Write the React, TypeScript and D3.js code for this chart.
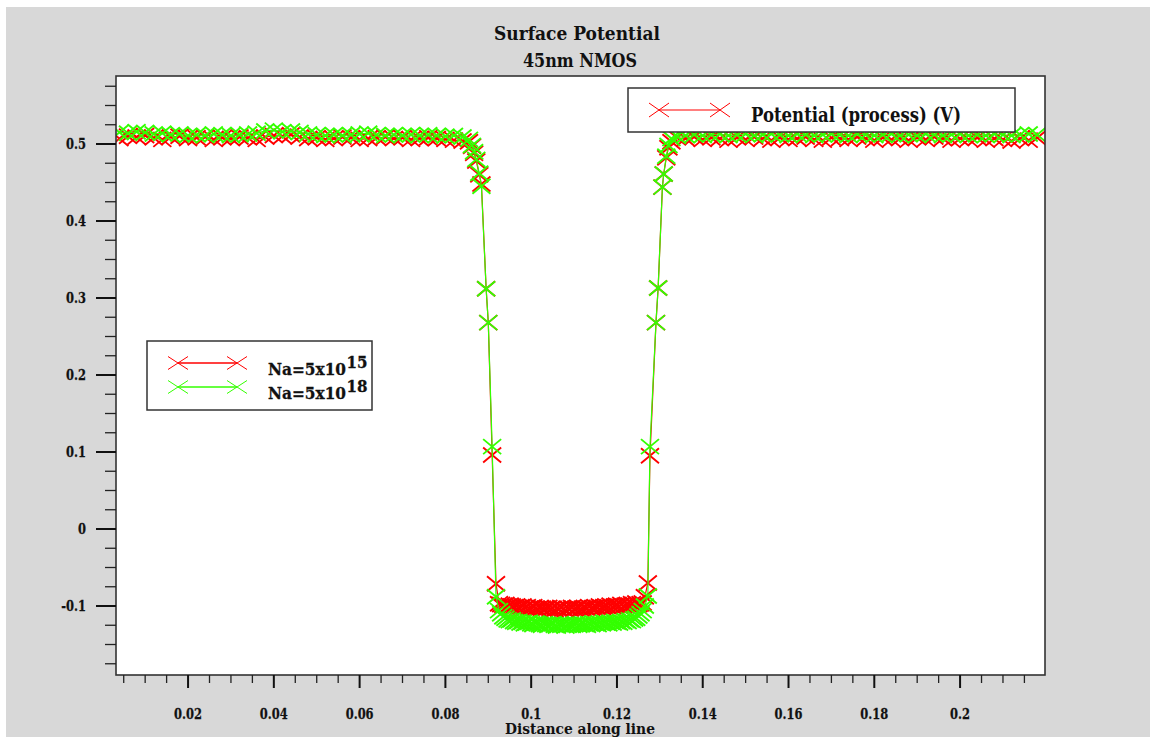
import React from "react";
import * as d3 from "d3";

// ---------------- data ----------------
const distance = [
  0.004, 0.006, 0.008, 0.010, 0.012, 0.014, 0.016, 0.018, 0.020, 0.022, 0.024, 0.026, 0.028, 0.030,
  0.032, 0.034, 0.036, 0.038, 0.040, 0.042, 0.044, 0.046, 0.048, 0.050, 0.052, 0.054, 0.056, 0.058,
  0.060, 0.062, 0.064, 0.066, 0.068, 0.070, 0.072, 0.074, 0.076, 0.078, 0.080, 0.082, 0.084,
  0.0855, 0.0862, 0.0867, 0.0872, 0.0879, 0.0884, 0.0895, 0.0900, 0.0909, 0.0918,
  0.0925, 0.0930, 0.0935, 0.0940, 0.0945, 0.0950, 0.0955, 0.0960, 0.0965, 0.0970, 0.0975, 0.0980,
  0.0985, 0.0990, 0.0995, 0.1000, 0.1005, 0.1010, 0.1015, 0.1020, 0.1025, 0.1030, 0.1035, 0.1040,
  0.1045, 0.1050, 0.1055, 0.1060, 0.1065, 0.1070, 0.1075, 0.1080, 0.1085, 0.1090, 0.1095, 0.1100,
  0.1105, 0.1110, 0.1115, 0.1120, 0.1125, 0.1130, 0.1135, 0.1140, 0.1145, 0.1150, 0.1155, 0.1160,
  0.1165, 0.1170, 0.1175, 0.1180, 0.1185, 0.1190, 0.1195, 0.1200, 0.1205, 0.1210, 0.1215, 0.1220,
  0.1225, 0.1230, 0.1235, 0.1240, 0.1245, 0.1250, 0.1255, 0.1260,
  0.1265, 0.1272, 0.1277, 0.1291, 0.1296, 0.1306, 0.1309, 0.1315, 0.1320, 0.1327,
  0.134, 0.136, 0.138, 0.140, 0.142, 0.144, 0.146, 0.148, 0.150, 0.152, 0.154, 0.156, 0.158, 0.160,
  0.162, 0.164, 0.166, 0.168, 0.170, 0.172, 0.174, 0.176, 0.178, 0.180, 0.182, 0.184, 0.186, 0.188,
  0.190, 0.192, 0.194, 0.196, 0.198, 0.200, 0.202, 0.204, 0.206, 0.208, 0.210, 0.212, 0.214, 0.216,
  0.218,
];

const potentialNa15 = [
  0.507, 0.510, 0.509, 0.511, 0.508, 0.506, 0.509, 0.510, 0.507, 0.508, 0.509, 0.506, 0.508, 0.507,
  0.509, 0.508, 0.506, 0.509, 0.511, 0.510, 0.512, 0.509, 0.507, 0.508, 0.506, 0.507, 0.509, 0.508,
  0.506, 0.507, 0.508, 0.509, 0.507, 0.508, 0.506, 0.507, 0.508, 0.507, 0.506, 0.505, 0.504,
  0.503, 0.497, 0.488, 0.478, 0.460, 0.448, 0.312, 0.268, 0.096, -0.071,
  -0.097, -0.098, -0.099, -0.098, -0.100, -0.099, -0.100, -0.101, -0.100, -0.102, -0.101, -0.100,
  -0.102, -0.101, -0.103, -0.102, -0.101, -0.103, -0.104, -0.102, -0.103, -0.104, -0.103, -0.102,
  -0.104, -0.103, -0.105, -0.103, -0.104, -0.102, -0.104, -0.105, -0.103, -0.104,
  -0.102, -0.104, -0.103, -0.102, -0.104, -0.103, -0.102, -0.103, -0.101, -0.103, -0.102, -0.101,
  -0.102, -0.100, -0.102, -0.101, -0.100, -0.101, -0.099, -0.101, -0.100, -0.099, -0.100, -0.098,
  -0.100, -0.099, -0.098, -0.099, -0.097, -0.098, -0.096, -0.098, -0.097, -0.096,
  -0.088, -0.070, 0.095, 0.268, 0.313, 0.444, 0.461, 0.482, 0.495, 0.503,
  0.508, 0.507, 0.509, 0.506, 0.508, 0.507, 0.505, 0.508, 0.506, 0.509, 0.507, 0.505, 0.508, 0.506,
  0.507, 0.509, 0.506, 0.505, 0.508, 0.507, 0.506, 0.509, 0.507, 0.505, 0.508, 0.506, 0.507, 0.505,
  0.508, 0.506, 0.509, 0.507, 0.505, 0.507, 0.506, 0.508, 0.505, 0.507, 0.506, 0.504, 0.507, 0.505,
  0.508,
];

const potentialNa18 = [
  0.515, 0.514, 0.516, 0.515, 0.513, 0.514, 0.512, 0.513, 0.511, 0.512, 0.511, 0.513, 0.512, 0.511,
  0.512, 0.513, 0.514, 0.517, 0.518, 0.516, 0.517, 0.515, 0.513, 0.512, 0.511, 0.512, 0.511, 0.512,
  0.513, 0.514, 0.512, 0.511, 0.512, 0.511, 0.512, 0.511, 0.512, 0.511, 0.510, 0.511, 0.509,
  0.506, 0.498, 0.490, 0.480, 0.462, 0.445, 0.312, 0.268, 0.107, -0.088,
  -0.106, -0.110, -0.114, -0.116, -0.118, -0.119, -0.118, -0.120, -0.121, -0.120, -0.122, -0.121,
  -0.123, -0.122, -0.121, -0.123, -0.124, -0.122, -0.123, -0.124, -0.125, -0.123, -0.124, -0.125,
  -0.124, -0.123, -0.125, -0.126, -0.124, -0.125, -0.124, -0.126, -0.125, -0.124,
  -0.125, -0.124, -0.123, -0.125, -0.124, -0.123, -0.124, -0.125, -0.123, -0.124, -0.122, -0.123,
  -0.124, -0.122, -0.123, -0.121, -0.122, -0.123, -0.121, -0.122, -0.120, -0.121, -0.122, -0.120,
  -0.121, -0.119, -0.120, -0.118, -0.119, -0.117, -0.116, -0.113, -0.110, -0.106,
  -0.100, -0.087, 0.107, 0.268, 0.313, 0.444, 0.461, 0.484, 0.498, 0.507,
  0.510, 0.511, 0.512, 0.511, 0.512, 0.513, 0.511, 0.512, 0.513, 0.511, 0.512, 0.513, 0.512, 0.511,
  0.513, 0.512, 0.511, 0.512, 0.513, 0.512, 0.511, 0.513, 0.512, 0.511, 0.512, 0.513, 0.511, 0.512,
  0.511, 0.513, 0.512, 0.511, 0.512, 0.513, 0.511, 0.512, 0.511, 0.513, 0.512, 0.511, 0.512, 0.513,
  0.512,
];

const xMajorTicks = [0.02, 0.04, 0.06, 0.08, 0.1, 0.12, 0.14, 0.16, 0.18, 0.2];
const xTickLabels = ["0.02", "0.04", "0.06", "0.08", "0.1", "0.12", "0.14", "0.16", "0.18", "0.2"];
const yMajorTicks = [-0.1, 0, 0.1, 0.2, 0.3, 0.4, 0.5];
const yTickLabels = ["-0.1", "0", "0.1", "0.2", "0.3", "0.4", "0.5"];
const titleLines = ["Surface Potential", "45nm NMOS"];
const xAxisTitle = "Distance along line";
const quantityLegend = "Potential (process) (V)";
const seriesBase = ["Na=5x10", "Na=5x10"];
const seriesExponent = ["15", "18"];
const seriesColors = ["#ff0000", "#33ff00"];

// ---------------- layout ----------------
const W = 1150;
const H = 737;
const plot = { left: 116, right: 1045, top: 76, bottom: 675 };
const FONT = "'DejaVu Serif', serif";

const x = d3.scaleLinear().domain([0.0032, 0.2198]).range([plot.left, plot.right]);
const y = d3.scaleLinear().domain([-0.1896, 0.5883]).range([plot.bottom, plot.top]);

const xMinorTicks = d3.range(1, 44).map((i) => +(i * 0.005).toFixed(3)).filter((v) => !xMajorTicks.some((m) => Math.abs(m - v) < 1e-9));
const yMinorTicks = d3.range(-7, 24).map((i) => +(i * 0.025).toFixed(3)).filter((v) => !yMajorTicks.some((m) => Math.abs(m - v) < 1e-9));

const crossPath = (hw: number, hh: number) => `M${-hw},${-hh}L${hw},${hh}M${-hw},${hh}L${hw},${-hh}`;

function Label({ x0, y0, size, anchor = "start", sx = 0.82, children }: any) {
  return (
    <text
      transform={`translate(${x0},${y0}) scale(${sx},1)`}
      fontSize={size}
      textAnchor={anchor}
      fontFamily={FONT}
      fontWeight="bold"
      fill="#111"
      stroke="#111"
      strokeWidth={0.25}
    >
      {children}
    </text>
  );
}

export default function App() {
  const series = [potentialNa15, potentialNa18];
  const n = Math.min(distance.length, potentialNa15.length, potentialNa18.length);
  const line = d3
    .line<number>()
    .x((_, i) => x(distance[i]))
    .y((d) => y(d));

  return (
    <svg width={W} height={H} style={{ position: "absolute", left: 0, top: 0, background: "#fff" }}>
      <defs>
        <clipPath id="plotClip">
          <rect x={plot.left} y={plot.top} width={plot.right - plot.left} height={plot.bottom - plot.top} />
        </clipPath>
      </defs>
      <rect x={6} y={7} width={W - 6} height={H - 7} fill="#d8d8d8" />
      <rect x={plot.left} y={plot.top} width={plot.right - plot.left} height={plot.bottom - plot.top} fill="#fff" />

      {/* title */}
      <text x={577} y={40} fontSize={19} textAnchor="middle" fontFamily={FONT} fontWeight="bold" fill="#111" textLength={166} lengthAdjust="spacingAndGlyphs">
        {titleLines[0]}
      </text>
      <text x={580} y={67} fontSize={19} textAnchor="middle" fontFamily={FONT} fontWeight="bold" fill="#111" textLength={114} lengthAdjust="spacingAndGlyphs">
        {titleLines[1]}
      </text>

      {/* data */}
      <g clipPath="url(#plotClip)">
        {series.map((vals, si) => (
          <g key={si}>
            <path d={line(vals.slice(0, n)) || ""} fill="none" stroke={seriesColors[si]} strokeWidth={1.2} />
            {vals.slice(0, n).map((v, i) => (
              <path
                key={i}
                transform={`translate(${x(distance[i])},${y(v)})`}
                d={crossPath(9, 7.5)}
                stroke={seriesColors[si]}
                strokeWidth={1.9}
                fill="none"
              />
            ))}
          </g>
        ))}
      </g>

      {/* frame */}
      <rect x={plot.left} y={plot.top} width={plot.right - plot.left} height={plot.bottom - plot.top} fill="none" stroke="#333" strokeWidth={1.6} />

      {/* y ticks */}
      {yMinorTicks.map((t) => (
        <line key={"ym" + t} x1={plot.left - 11} x2={plot.left} y1={y(t)} y2={y(t)} stroke="#222" strokeWidth={1.3} />
      ))}
      {yMajorTicks.map((t, i) => (
        <g key={"yM" + t}>
          <line x1={plot.left - 20} x2={plot.left} y1={y(t)} y2={y(t)} stroke="#111" strokeWidth={2} />
          <Label x0={86} y0={y(t) + 5} size={14} anchor="end">
            {yTickLabels[i]}
          </Label>
        </g>
      ))}

      {/* x ticks */}
      {xMinorTicks.map((t) => (
        <line key={"xm" + t} x1={x(t)} x2={x(t)} y1={plot.bottom} y2={plot.bottom + 8} stroke="#222" strokeWidth={1.3} />
      ))}
      {xMajorTicks.map((t, i) => (
        <g key={"xM" + t}>
          <line x1={x(t)} x2={x(t)} y1={plot.bottom} y2={plot.bottom + 13} stroke="#111" strokeWidth={2} />
          <Label x0={x(t)} y0={719} size={14} anchor="middle">
            {xTickLabels[i]}
          </Label>
        </g>
      ))}
      <text x={580} y={734} fontSize={15} textAnchor="middle" fontFamily={FONT} fontWeight="bold" fill="#111" textLength={150} lengthAdjust="spacingAndGlyphs">
        {xAxisTitle}
      </text>

      {/* quantity legend */}
      <rect x={628} y={88} width={387} height={44} fill="#fff" stroke="#333" strokeWidth={1.5} />
      <line x1={659} x2={720} y1={110} y2={110} stroke={seriesColors[0]} strokeWidth={1.2} />
      {[659, 720].map((cx) => (
        <path key={cx} transform={`translate(${cx},110)`} d={crossPath(10, 7)} stroke={seriesColors[0]} strokeWidth={1} fill="none" />
      ))}
      <text x={751} y={122} fontSize={19.5} fontFamily={FONT} fontWeight="bold" fill="#111" textLength={210} lengthAdjust="spacingAndGlyphs">
        {quantityLegend}
      </text>

      {/* series legend */}
      <rect x={147} y={341} width={225} height={69} fill="#fff" stroke="#333" strokeWidth={1.5} />
      {seriesBase.map((b, i) => {
        const ly = 363 + i * 24;
        return (
          <g key={i}>
            <line x1={178} x2={237} y1={ly} y2={ly} stroke={seriesColors[i]} strokeWidth={1.4} />
            {[178, 237].map((cx) => (
              <path key={cx} transform={`translate(${cx},${ly})`} d={crossPath(10, 6.5)} stroke={seriesColors[i]} strokeWidth={1} fill="none" />
            ))}
            <text x={268} y={375 + i * 24} fontSize={17} fontFamily={FONT} fontWeight="bold" fill="#111" stroke="#111" strokeWidth={0.3} textLength={78} lengthAdjust="spacingAndGlyphs">
              {b}
            </text>
            <text x={346.5} y={368 + i * 24} fontSize={16} fontFamily={FONT} fontWeight="bold" fill="#111" stroke="#111" strokeWidth={0.3} textLength={21} lengthAdjust="spacingAndGlyphs">
              {seriesExponent[i]}
            </text>
          </g>
        );
      })}
    </svg>
  );
}
